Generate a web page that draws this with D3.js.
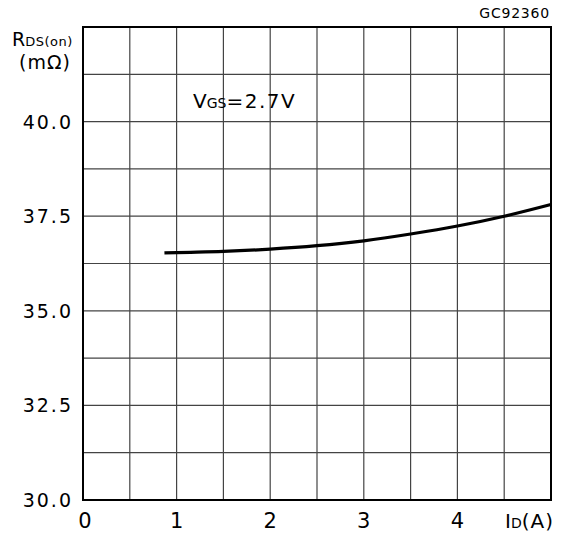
<!DOCTYPE html>
<html>
<head>
<meta charset="utf-8">
<script src="https://cdn.jsdelivr.net/npm/d3@7"></script>
<style>
  body { margin: 0; background: #fff; }
  svg text { font-family: "DejaVu Sans", sans-serif; fill: #000; }
</style>
</head>
<body>
<svg id="chart" width="562" height="533"></svg>
<script>
// curve: drain current (A) vs on-resistance (mOhm)
const id_values = [0.87, 1.0, 1.5, 2.0, 2.5, 3.0, 3.5, 4.0, 4.5, 5.0]
const rds_values = [36.53, 36.54, 36.57, 36.63, 36.72, 36.85, 37.03, 37.24, 37.5, 37.81]
const x_ticks = [0, 1, 2, 3, 4]
const y_ticks = [30, 32.5, 35, 37.5, 40]
const x_grid = d3.range(0, 5.01, 0.5)
const y_grid = d3.range(30, 42.51, 1.25)

const svg = d3.select("#chart")
const plot_left = 83, plot_right = 551, plot_top = 27, plot_bottom = 500

const x = d3.scaleLinear().domain([0, 5]).range([plot_left, plot_right])
const y = d3.scaleLinear().domain([30, 42.5]).range([plot_bottom, plot_top])

// grid
svg.append("g").selectAll("line").data(x_grid).join("line")
    .attr("x1", d => x(d)).attr("x2", d => x(d))
    .attr("y1", plot_top).attr("y2", plot_bottom)
    .attr("stroke", "#444").attr("stroke-width", 1.2)
svg.append("g").selectAll("line").data(y_grid).join("line")
    .attr("x1", plot_left).attr("x2", plot_right)
    .attr("y1", d => y(d)).attr("y2", d => y(d))
    .attr("stroke", "#444").attr("stroke-width", 1.2)

// frame
svg.append("rect")
    .attr("x", plot_left).attr("y", plot_top)
    .attr("width", plot_right - plot_left).attr("height", plot_bottom - plot_top)
    .attr("fill", "none").attr("stroke", "#000").attr("stroke-width", 2)

// curve
const pts = id_values.map((v, i) => [v, rds_values[i]])
svg.append("path")
    .datum(pts)
    .attr("d", d3.line().x(d => x(d[0])).y(d => y(d[1])).curve(d3.curveMonotoneX))
    .attr("fill", "none").attr("stroke", "#000").attr("stroke-width", 3.2)

// tick labels
svg.append("g").selectAll("text").data(y_ticks).join("text")
    .attr("x", 73).attr("y", d => y(d) + 7)
    .attr("text-anchor", "end")
    .attr("font-size", 19)
    .attr("letter-spacing", 2)
    .text(d => d.toFixed(1))
svg.append("g").selectAll("text").data(x_ticks).join("text")
    .attr("x", d => d === 0 ? x(d) + 2 : x(d)).attr("y", 528)
    .attr("text-anchor", "middle")
    .attr("font-size", 21)
    .text(d => d)

// axis titles
const yt = svg.append("text").attr("x", 12).attr("y", 46).attr("font-size", 19)
yt.append("tspan").text("R")
yt.append("tspan").attr("font-size", 13).attr("letter-spacing", 0.5).text("DS(on)")
svg.append("text").attr("x", 19).attr("y", 69).attr("font-size", 19).attr("letter-spacing", 1).text("(m\u03A9)")

const xt = svg.append("text").attr("x", 505).attr("y", 528).attr("font-size", 20)
xt.append("tspan").text("I")
xt.append("tspan").attr("font-size", 14).text("D")
xt.append("tspan").attr("letter-spacing", 1).text("(A)")

// condition label
const vg = svg.append("text").attr("x", 193).attr("y", 108).attr("font-size", 20)
vg.append("tspan").text("V")
vg.append("tspan").attr("font-size", 14).text("GS")
vg.append("tspan").attr("letter-spacing", 1.5).text("=2.7V")

svg.append("text").attr("x", 550).attr("y", 18)
    .attr("text-anchor", "end").attr("font-size", 14)
    .attr("letter-spacing", 0.8)
    .text("GC92360")
</script>
</body>
</html>
